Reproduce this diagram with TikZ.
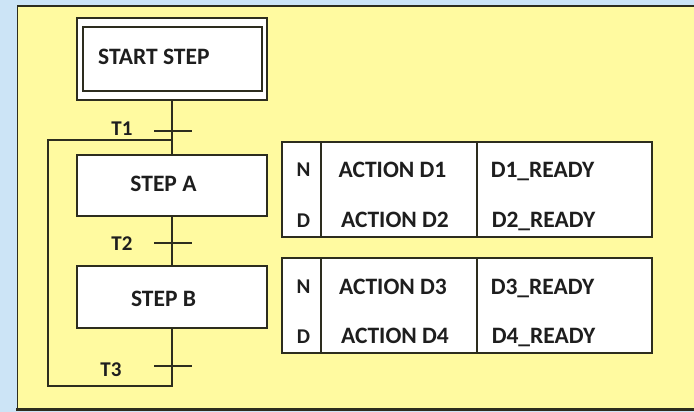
\documentclass[tikz,border=0pt]{standalone}
\usepackage{fontspec}
\setmainfont{Carlito}
\definecolor{bgblue}{RGB}{204,228,246}
\definecolor{panel}{RGB}{255,250,160}
\definecolor{ink}{RGB}{45,45,30}
\definecolor{txt}{RGB}{30,30,30}
\begin{document}
\begin{tikzpicture}[x=1pt,y=-1pt,
  stepbox/.style={draw=ink,line width=2pt,fill=white,inner sep=0pt},
  big/.style={font=\bfseries\fontsize{23.5}{28}\selectfont,text=txt,inner sep=0pt,
    text height=14.9pt,text depth=0pt},
  small/.style={font=\bfseries\fontsize{21}{25}\selectfont,text=txt,inner sep=0pt,
    text height=13.3pt,text depth=0pt},
  tbl/.style={draw=ink,line width=2pt,fill=white,inner sep=0pt,minimum width=370pt,minimum height=95pt},
  link/.style={draw=ink,line width=1.8pt},
  bar/.style={draw=ink,line width=1.6pt},
  divider/.style={draw=ink,line width=1.5pt}]
\useasboundingbox (0,0) rectangle (694,412);
\fill[bgblue] (0,0) rectangle (694,412);
\fill[panel] (17,5) rectangle (694,410);
\draw[ink,line width=1.5pt] (694,6) -- (17.5,6) -- (17.5,410);
\draw[ink,line width=3pt] (16,409.5) -- (694,409.5);

% start step (double frame)
\node[stepbox,minimum width=190pt,minimum height=82pt] (start) at (172,59) {};
\node[draw=ink,line width=2pt,inner sep=0pt,minimum width=179pt,minimum height=64pt] (startin) at (172.5,59) {};
\node[big,anchor=west] (startlbl) at (98,57.5) {START STEP};

% steps
\node[stepbox,minimum width=190pt,minimum height=61pt] (stepA) at (172,185.5) {};
\node[big] (stepAlbl) at (163.5,184) {STEP A};
\node[stepbox,minimum width=190pt,minimum height=62pt] (stepB) at (172,297) {};
\node[big] (stepBlbl) at (163.5,299) {STEP B};

% connectors
\coordinate (t1) at (172,131);
\coordinate (t2) at (172,243);
\coordinate (t3) at (172,366);
\coordinate (lb) at (172,386);
\coordinate (bl) at (48,386);
\coordinate (tl) at (48,140);
\coordinate (tr) at (172,140);
\draw[link] (start.south) -- (stepA.north);
\draw[link] (stepA.south) -- (stepB.north);
\draw[link] (stepB.south) -- (lb) -- (bl) -- (tl) -- (tr);

% transitions
\draw[bar] ([xshift=-18pt]t1) -- ([xshift=20pt]t1);
\draw[bar] ([xshift=-18pt]t2) -- ([xshift=20pt]t2);
\draw[bar] ([xshift=-18pt]t3) -- ([xshift=20pt]t3);
\node[small] (t1lbl) at (122,129) {T1};
\node[small] (t2lbl) at (122,244) {T2};
\node[small] (t3lbl) at (111,370) {T3};

% action table 1
\node[tbl] (tab1) at (467,189.5) {};
\draw[divider] (321,142) -- (321,237);
\draw[divider] (477,142) -- (477,237);
\node[small] (n1) at (303.5,170) {N};
\node[small] (d1) at (303.5,220.5) {D};
\node[big] (a1) at (392.5,170) {ACTION D1};
\node[big] (a2) at (395,220.5) {ACTION D2};
\node[big] (r1) at (542.5,170) {D1\_READY};
\node[big] (r2) at (543.5,220.5) {D2\_READY};

% action table 2
\node[tbl] (tab2) at (467,305.5) {};
\draw[divider] (321,258) -- (321,353);
\draw[divider] (477,258) -- (477,353);
\node[small] (n2) at (303.5,287) {N};
\node[small] (d2) at (303.5,336.5) {D};
\node[big] (a3) at (393,287) {ACTION D3};
\node[big] (a4) at (395,336.5) {ACTION D4};
\node[big] (r3) at (542.5,287) {D3\_READY};
\node[big] (r4) at (543.5,336.5) {D4\_READY};
\end{tikzpicture}
\end{document}
